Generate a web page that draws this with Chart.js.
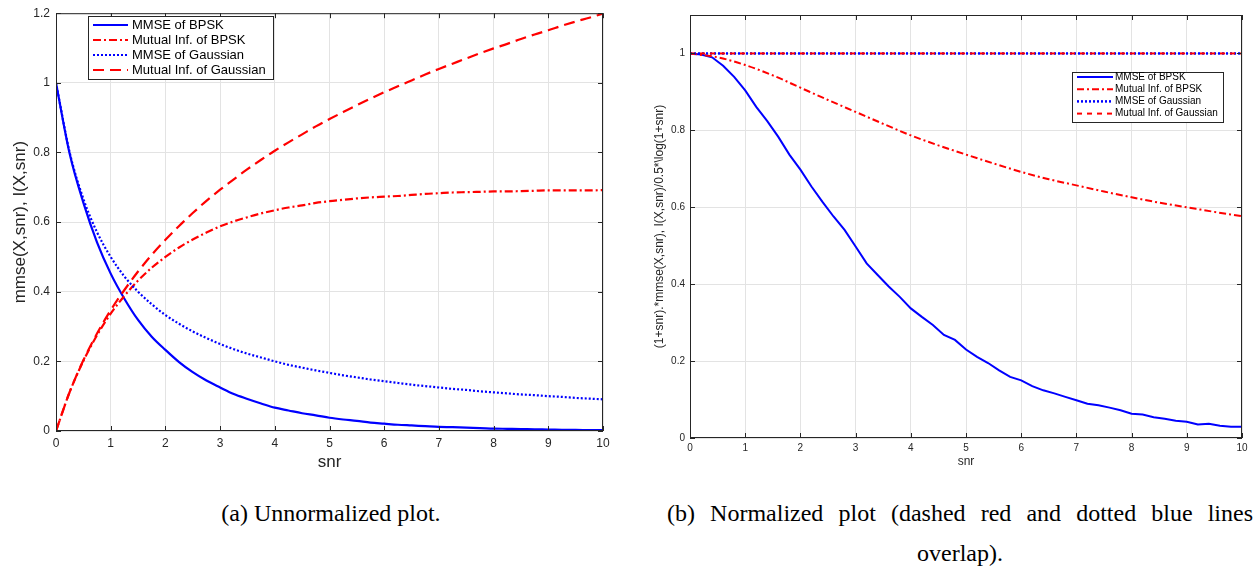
<!DOCTYPE html>
<html>
<head>
<meta charset="utf-8">
<script src="https://cdn.jsdelivr.net/npm/chart.js@4.4.0/dist/chart.umd.min.js"></script>
<style>
  html, body { margin: 0; padding: 0; background: #fff; }
  #page { position: relative; width: 1258px; height: 571px; overflow: hidden; }
  canvas { position: absolute; top: 0; }
  .cap { position: absolute; font-family: 'Liberation Serif', 'Times New Roman', serif; font-size: 24px; line-height: 26px; color: #000; white-space: nowrap; }
</style>
</head>
<body>
<div id="page">
  <canvas id="chart-a" width="625" height="475" style="left:0"></canvas>
  <canvas id="chart-b" width="628" height="475" style="left:630px"></canvas>
  <div class="cap" style="left:0; width:662px; top:500px; text-align:center;">(a) Unnormalized plot.</div>
  <div class="cap" style="left:667px; width:586px; top:500px; text-align:justify; text-align-last:justify; white-space:normal;">(b) Normalized plot (dashed red and dotted blue lines</div>
  <div class="cap" style="left:860px; width:200px; top:540px; text-align:center;">overlap).</div>
</div>
<script>
  // Plot (a): raw curves, snr step 0.25
  const snrA = [0, 0.25, 0.5, 0.75, 1, 1.25, 1.5, 1.75, 2, 2.25, 2.5, 2.75, 3, 3.25, 3.5, 3.75, 4, 4.25, 4.5, 4.75,
                5, 5.25, 5.5, 5.75, 6, 6.25, 6.5, 6.75, 7, 7.25, 7.5, 7.75, 8, 8.25, 8.5, 8.75, 9, 9.25, 9.5, 9.75, 10];
  const mmseBpskA = [1, 0.796, 0.656, 0.542, 0.452, 0.380, 0.319, 0.271, 0.233, 0.198, 0.169, 0.145, 0.125, 0.106,
                     0.092, 0.079, 0.067, 0.059, 0.051, 0.045, 0.038, 0.033, 0.029, 0.024, 0.021, 0.018, 0.016, 0.014,
                     0.012, 0.011, 0.0096, 0.0085, 0.007, 0.0063, 0.0056, 0.0047, 0.0042, 0.0035, 0.003, 0.0028, 0.0026];
  const miBpskA = [0, 0.112, 0.201, 0.275, 0.337, 0.388, 0.432, 0.469, 0.500, 0.527, 0.550, 0.570, 0.588, 0.602,
                   0.614, 0.625, 0.634, 0.642, 0.648, 0.655, 0.660, 0.664, 0.668, 0.671, 0.673, 0.675, 0.678, 0.681,
                   0.683, 0.685, 0.686, 0.687, 0.688, 0.688, 0.689, 0.690, 0.691, 0.691, 0.691, 0.691, 0.692];
  const mmseGaussA = [1, 0.8, 0.667, 0.571, 0.5, 0.444, 0.4, 0.364, 0.333, 0.308, 0.286, 0.267, 0.25, 0.235, 0.222,
                      0.211, 0.2, 0.19, 0.182, 0.174, 0.167, 0.16, 0.154, 0.148, 0.143, 0.138, 0.133, 0.129, 0.125,
                      0.121, 0.118, 0.114, 0.111, 0.108, 0.105, 0.103, 0.1, 0.098, 0.095, 0.093, 0.091];
  const miGaussA = [0, 0.112, 0.203, 0.28, 0.347, 0.405, 0.458, 0.506, 0.549, 0.589, 0.626, 0.661, 0.693, 0.723,
                    0.752, 0.779, 0.805, 0.829, 0.852, 0.875, 0.896, 0.916, 0.936, 0.955, 0.973, 0.99, 1.007, 1.024,
                    1.04, 1.055, 1.07, 1.085, 1.099, 1.112, 1.126, 1.139, 1.151, 1.164, 1.176, 1.187, 1.199];

  // Plot (b): normalized curves
  const snrB = [0, 0.2, 0.4, 0.6, 0.8, 1, 1.2, 1.4, 1.6, 1.8, 2, 2.2, 2.4, 2.6, 2.8, 3, 3.2, 3.4, 3.6, 3.8, 4,
                4.2, 4.4, 4.6, 4.8, 5, 5.2, 5.4, 5.6, 5.8, 6, 6.2, 6.4, 6.6, 6.8, 7, 7.2, 7.4, 7.6, 7.8, 8,
                8.2, 8.4, 8.6, 8.8, 9, 9.2, 9.4, 9.6, 9.8, 10];
  const mmseBpskB = [1, 0.997, 0.99, 0.968, 0.939, 0.904, 0.861, 0.824, 0.783, 0.737, 0.698, 0.654, 0.614, 0.576,
                     0.541, 0.498, 0.454, 0.424, 0.394, 0.367, 0.337, 0.315, 0.294, 0.268, 0.255, 0.23, 0.211, 0.195,
                     0.176, 0.159, 0.15, 0.135, 0.124, 0.116, 0.107, 0.098, 0.089, 0.085, 0.079, 0.072, 0.063,
                     0.061, 0.054, 0.05, 0.045, 0.042, 0.035, 0.037, 0.032, 0.029, 0.029];
  const snrC = [0, 0.5, 1, 1.5, 2, 2.5, 3, 3.5, 4, 4.5, 5, 5.5, 6, 6.5, 7, 7.5, 8, 8.5, 9, 9.5, 10];
  const miBpskB = [1, 0.99, 0.97, 0.943, 0.911, 0.879, 0.848, 0.817, 0.787, 0.761, 0.737, 0.714, 0.692, 0.673,
                   0.657, 0.641, 0.626, 0.612, 0.6, 0.588, 0.577];
  const snrD = [0, 10];
  const mmseGaussB = [1, 1];
  const miGaussB = [1, 1];

  const seriesLabels = ['MMSE of BPSK', 'Mutual Inf. of BPSK', 'MMSE of Gaussian', 'Mutual Inf. of Gaussian'];
  const xTicks = [0, 1, 2, 3, 4, 5, 6, 7, 8, 9, 10];

  const SANS = "'Liberation Sans', Arial, Helvetica, sans-serif";
  const AXIS = '#262626';
  const BLUE = '#0000ff';
  const RED = '#ff0000';

  function pts(xs, ys) {
    return xs.map((x, i) => ({ x: x, y: ys[i] }));
  }

  // MATLAB style box with inward ticks
  const axesBox = {
    id: 'axesBox',
    afterDatasetsDraw(chart) {
      const { ctx, chartArea: a, scales: { x, y } } = chart;
      ctx.save();
      ctx.strokeStyle = AXIS;
      ctx.lineWidth = 1;
      ctx.strokeRect(a.left + 0.5, a.top + 0.5, a.right - a.left - 1, a.bottom - a.top - 1);
      ctx.beginPath();
      x.ticks.forEach(t => {
        const px = Math.round(x.getPixelForValue(t.value)) + 0.5;
        ctx.moveTo(px, a.bottom); ctx.lineTo(px, a.bottom - 5);
        ctx.moveTo(px, a.top); ctx.lineTo(px, a.top + 5);
      });
      y.ticks.forEach(t => {
        const py = Math.round(y.getPixelForValue(t.value)) + 0.5;
        ctx.moveTo(a.left, py); ctx.lineTo(a.left + 5, py);
        ctx.moveTo(a.right, py); ctx.lineTo(a.right - 5, py);
      });
      ctx.stroke();
      ctx.restore();
    }
  };

  // Legend drawn inside the plot area with a framed box
  const boxLegend = {
    id: 'boxLegend',
    afterDraw(chart, args, o) {
      const ctx = chart.ctx;
      ctx.save();
      ctx.fillStyle = '#fff';
      ctx.fillRect(o.x, o.y, o.w, o.h);
      ctx.strokeStyle = AXIS;
      ctx.lineWidth = 1;
      ctx.strokeRect(o.x + 0.5, o.y + 0.5, o.w, o.h);
      ctx.font = o.fontSize + 'px ' + SANS;
      ctx.textBaseline = 'middle';
      chart.data.datasets.forEach((ds, i) => {
        const yy = o.y + o.firstRow + i * o.rowGap;
        ctx.strokeStyle = ds.borderColor;
        ctx.lineWidth = ds.borderWidth;
        ctx.setLineDash(ds.borderDash || []);
        ctx.beginPath();
        ctx.moveTo(o.x0, yy);
        ctx.lineTo(o.x1, yy);
        ctx.stroke();
        ctx.setLineDash([]);
        ctx.fillStyle = '#000';
        ctx.fillText(ds.label, o.textX, yy);
      });
      ctx.restore();
    }
  };

  const fmt = v => String(+v.toFixed(2));

  function makeChart(id, cfg) {
    return new Chart(document.getElementById(id), {
      type: 'line',
      data: { datasets: cfg.datasets },
      options: {
        responsive: false,
        animation: false,
        devicePixelRatio: 1,
        layout: { padding: { left: 0, top: cfg.top, right: cfg.right, bottom: 0 } },
        elements: { point: { radius: 0 } },
        plugins: {
          legend: { display: false },
          tooltip: { enabled: false },
          boxLegend: cfg.legend
        },
        scales: {
          x: {
            type: 'linear',
            min: 0,
            max: 10,
            afterBuildTicks: s => { s.ticks = xTicks.map(v => ({ value: v })); },
            afterFit: s => { s.height = cfg.xHeight; },
            grid: { color: '#e3e3e3', drawTicks: false },
            border: { display: false },
            ticks: { color: AXIS, padding: cfg.xTickPad, maxRotation: 0, callback: fmt, font: { family: SANS, size: cfg.tickSize } },
            title: { display: true, text: 'snr', color: AXIS, padding: { top: 0, bottom: cfg.xTitlePad }, font: { family: SANS, size: cfg.xTitleSize } }
          },
          y: {
            type: 'linear',
            min: 0,
            max: cfg.yMax,
            afterBuildTicks: s => { s.ticks = cfg.yTicks.map(v => ({ value: v })); },
            afterFit: s => { s.width = cfg.yWidth; },
            grid: { color: '#e3e3e3', drawTicks: false },
            border: { display: false },
            ticks: { color: AXIS, padding: cfg.yTickPad, callback: fmt, font: { family: SANS, size: cfg.tickSize } },
            title: { display: true, text: cfg.yTitle, color: AXIS, padding: { top: cfg.yTitlePad, bottom: 0 }, font: { family: SANS, size: cfg.yTitleSize } }
          }
        }
      },
      plugins: [axesBox, boxLegend]
    });
  }

  makeChart('chart-a', {
    top: 12, right: 22, xHeight: 44, yWidth: 56,
    yMax: 1.2, yTicks: [0, 0.2, 0.4, 0.6, 0.8, 1, 1.2],
    tickSize: 12, xTickPad: 5, yTickPad: 6,
    xTitleSize: 17, xTitlePad: 2,
    yTitle: 'mmse(X,snr), I(X,snr)', yTitleSize: 17, yTitlePad: 10,
    legend: { x: 88, y: 16, w: 185, h: 63, firstRow: 9, rowGap: 15, x0: 93, x1: 128, textX: 132, fontSize: 13 },
    datasets: [
      { label: seriesLabels[0], data: pts(snrA, mmseBpskA), borderColor: BLUE, borderWidth: 2.2, cubicInterpolationMode: 'monotone', order: 4 },
      { label: seriesLabels[1], data: pts(snrA, miBpskA), borderColor: RED, borderWidth: 2.2, borderDash: [8, 3, 2, 3], cubicInterpolationMode: 'monotone', order: 3 },
      { label: seriesLabels[2], data: pts(snrA, mmseGaussA), borderColor: BLUE, borderWidth: 2.2, borderDash: [2, 2], cubicInterpolationMode: 'monotone', order: 2 },
      { label: seriesLabels[3], data: pts(snrA, miGaussA), borderColor: RED, borderWidth: 2.2, borderDash: [11, 6], cubicInterpolationMode: 'monotone', order: 1 }
    ]
  });

  makeChart('chart-b', {
    top: 15, right: 16, xHeight: 37, yWidth: 60,
    yMax: 1.1, yTicks: [0, 0.2, 0.4, 0.6, 0.8, 1],
    tickSize: 10, xTickPad: 4, yTickPad: 5,
    xTitleSize: 12, xTitlePad: 6,
    yTitle: '(1+snr).*mmse(X,snr), I(X,snr)/0.5*\\log(1+snr)', yTitleSize: 12, yTitlePad: 22,
    legend: { x: 442, y: 72, w: 151, h: 50, firstRow: 5, rowGap: 12.2, x0: 447, x1: 483, textX: 485, fontSize: 10 },
    datasets: [
      { label: seriesLabels[0], data: pts(snrB, mmseBpskB), borderColor: BLUE, borderWidth: 2, tension: 0, order: 4 },
      { label: seriesLabels[1], data: pts(snrC, miBpskB), borderColor: RED, borderWidth: 2, borderDash: [7, 3, 2, 3], cubicInterpolationMode: 'monotone', order: 3 },
      { label: seriesLabels[2], data: pts(snrD, mmseGaussB), borderColor: BLUE, borderWidth: 2.5, borderDash: [2, 2], order: 2 },
      { label: seriesLabels[3], data: pts(snrD, miGaussB), borderColor: RED, borderWidth: 2, borderDash: [5, 5], order: 1 }
    ]
  });
</script>
</body>
</html>
